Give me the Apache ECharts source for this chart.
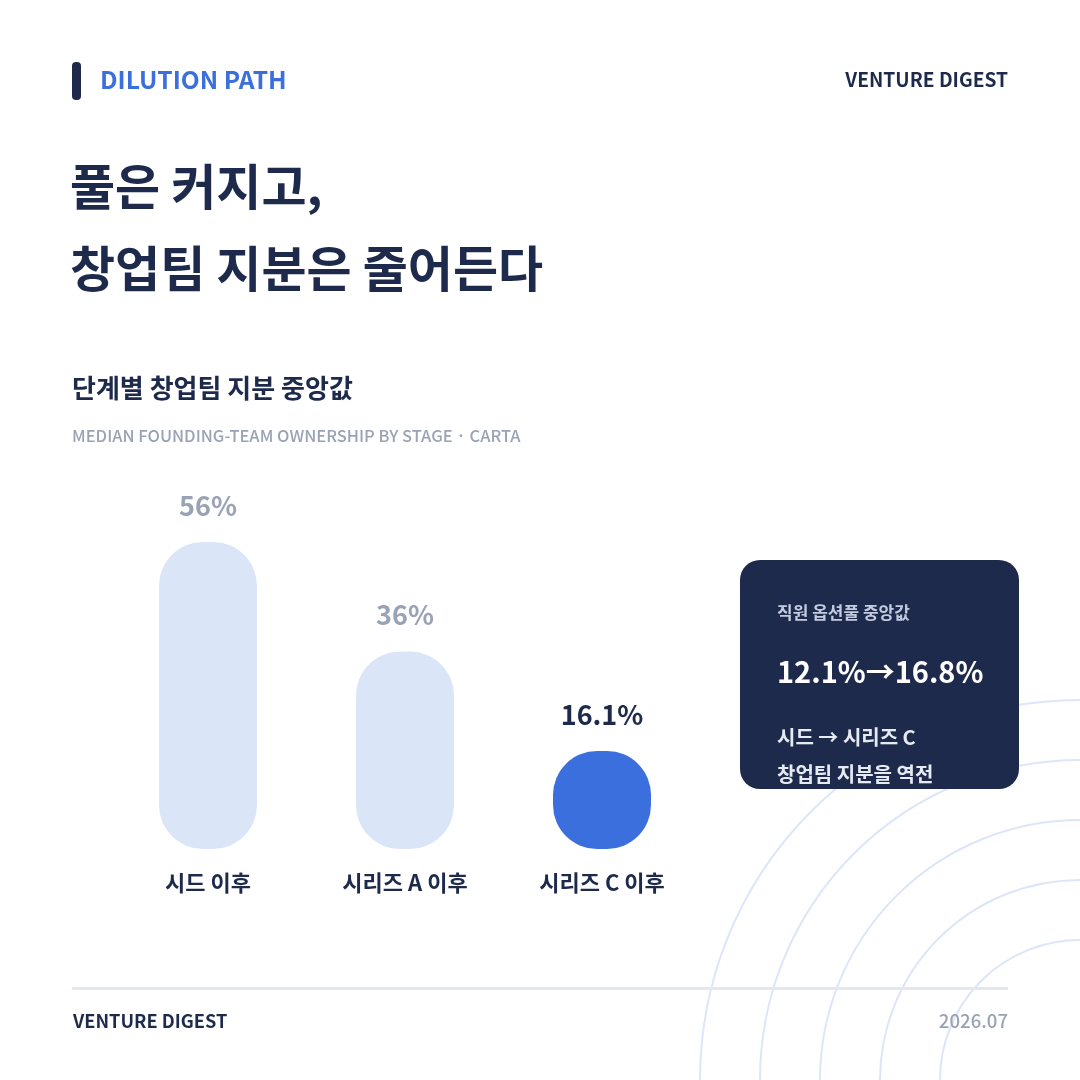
<!DOCTYPE html>
<html>
<head>
    <meta charset="utf-8">
    <title>Dilution path</title>
    <script src="https://cdn.jsdelivr.net/npm/echarts@6.0.0/dist/echarts.min.js"></script>
    <style>
        html, body { margin: 0; padding: 0; background: #ffffff; }
        #main { width: 1080px; height: 1080px; }
    </style>
</head>
<body>
<div id="main"></div>
<script type="text/javascript">
    // 데이터
    var stages = ['시드 이후', '시리즈 A 이후', '시리즈 C 이후'];
    var founderShare = [56, 36, 16.1];
    var shareLabels = ['56%', '36%', '16.1%'];
    var highlightIndex = 2;
    var poolFrom = '12.1%', poolTo = '16.8%';

    var NAVY = '#1d2a4b', BLUE = '#3b6fde', PALE = '#dbe5f8', GREY = '#9aa3b5';
    var FONT = '"Noto Sans CJK KR", "Noto Sans", sans-serif';

    var myChart = echarts.init(document.getElementById('main'), null, { renderer: 'canvas' });

    var barData = founderShare.map(function (v, i) {
        var hot = i === highlightIndex;
        return {
            value: v,
            itemStyle: { color: hot ? BLUE : PALE },
            label: { color: hot ? NAVY : GREY, formatter: shareLabels[i] }
        };
    });

    // 배경 동심원
    var rings = [380, 320, 260, 200, 140].map(function (r) {
        return {
            type: 'circle', z: 0, silent: true,
            shape: { cx: 1080, cy: 1080, r: r },
            style: { fill: 'none', stroke: '#dde6f8', lineWidth: 2 }
        };
    });

    var option = {
        backgroundColor: '#ffffff',
        animation: false,
        grid: { left: 109.5, right: 379.5, top: 520, bottom: 231 },
        xAxis: {
            type: 'category',
            data: stages,
            axisLine: { show: false },
            axisTick: { show: false },
            axisLabel: {
                margin: 23,
                color: NAVY,
                fontFamily: FONT,
                fontSize: 22,
                fontWeight: 'bold'
            }
        },
        yAxis: {
            type: 'value',
            min: 0,
            max: 60,
            show: false,
            splitLine: { show: false }
        },
        series: [{
            type: 'bar',
            data: barData,
            barWidth: 98,
            barMinHeight: 98,
            z: 5,
            itemStyle: { borderRadius: 44 },
            label: {
                show: true,
                position: 'top',
                distance: 23,
                fontFamily: FONT,
                fontSize: 27,
                fontWeight: 'bold'
            }
        }],
        graphic: {
            elements: rings.concat([
                // 헤더
                { type: 'rect', shape: { x: 72, y: 62, width: 9, height: 38, r: 4 }, style: { fill: NAVY } },
                { type: 'text', left: 100, top: 67, style: { text: 'DILUTION PATH', fill: BLUE, font: '600 24.6px ' + FONT } },
                { type: 'text', right: 72, top: 70, style: { text: 'VENTURE DIGEST', fill: NAVY, font: '600 19.2px ' + FONT } },
                // 제목
                { type: 'text', left: 70, top: 162, style: { text: '풀은 커지고,', fill: NAVY, font: 'bold 49px ' + FONT } },
                { type: 'text', left: 70, top: 244, style: { text: '창업팀 지분은 줄어든다', fill: NAVY, font: 'bold 49px ' + FONT } },
                { type: 'text', left: 72, top: 375, style: { text: '단계별 창업팀 지분 중앙값', fill: NAVY, font: 'bold 26px ' + FONT } },
                { type: 'text', left: 72, top: 427, style: { text: 'MEDIAN FOUNDING-TEAM OWNERSHIP BY STAGE · CARTA', fill: GREY, font: '500 16.5px ' + FONT } },
                // 콜아웃
                { type: 'rect', z: 10, shape: { x: 740, y: 560, width: 279, height: 229, r: 20 }, style: { fill: NAVY } },
                { type: 'text', z: 11, left: 777, top: 604, style: { text: '직원 옵션풀 중앙값', fill: '#c3cbe0', font: 'bold 17px ' + FONT } },
                { type: 'text', z: 11, left: 777, top: 657, style: { text: poolFrom + '→' + poolTo, fill: '#ffffff', font: 'bold 29px ' + FONT } },
                { type: 'text', z: 11, left: 777, top: 727, style: { text: '시드 → 시리즈 C', fill: '#e6eaf3', font: 'bold 20px ' + FONT } },
                { type: 'text', z: 11, left: 777, top: 764, style: { text: '창업팀 지분을 역전', fill: '#e6eaf3', font: 'bold 20px ' + FONT } },
                // 푸터
                { type: 'rect', shape: { x: 72, y: 987, width: 936, height: 3 }, style: { fill: '#e3e7f0' } },
                { type: 'text', left: 73, top: 1012, style: { text: 'VENTURE DIGEST', fill: NAVY, font: '600 18.2px ' + FONT } },
                { type: 'text', right: 72, top: 1012, style: { text: '2026.07', fill: GREY, font: '500 18.6px ' + FONT } }
            ])
        }
    };

    myChart.setOption(option);
</script>
</body>
</html>
